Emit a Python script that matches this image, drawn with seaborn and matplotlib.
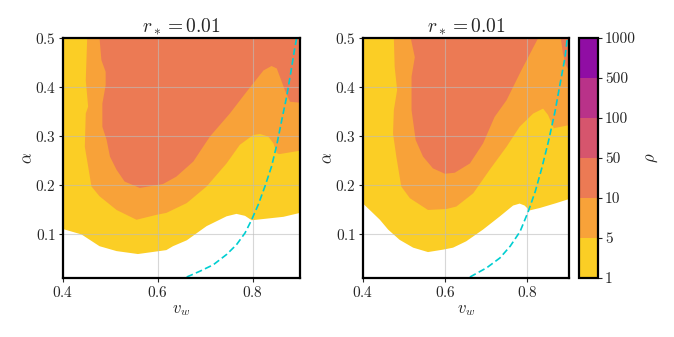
import numpy as np
import matplotlib
matplotlib.use("Agg")
import matplotlib.pyplot as plt
from matplotlib.colors import ListedColormap, BoundaryNorm
import seaborn as sns

# contour levels of rho and their fill colours
levels = [1, 5, 10, 50, 100, 500, 1000]
level_colors = ["#fbce25", "#f8a239", "#ec7a54", "#d6556d", "#b93289", "#900da4"]

# ---- left panel: boundaries ----
# rho = 1 (lower edge of the filled area)
L_vw_1 = [0.4, 0.439, 0.477, 0.513, 0.558, 0.618, 0.632, 0.661, 0.703, 0.745,
          0.766, 0.784, 0.798, 0.808, 0.865, 0.9]
L_al_1 = [0.110, 0.099, 0.075, 0.065, 0.059, 0.067, 0.075, 0.087, 0.116, 0.136,
          0.141, 0.137, 0.128, 0.129, 0.135, 0.143]
# rho = 5
L_vw_5 = [0.451, 0.448, 0.453, 0.448, 0.446, 0.453, 0.460, 0.477, 0.513, 0.555,
          0.597, 0.618, 0.661, 0.703, 0.745, 0.773, 0.801, 0.816, 0.833, 0.844,
          0.851, 0.856, 0.9]
L_al_5 = [0.5, 0.414, 0.360, 0.346, 0.278, 0.238, 0.197, 0.177, 0.149, 0.129,
          0.139, 0.143, 0.163, 0.197, 0.244, 0.282, 0.302, 0.304, 0.299, 0.285,
          0.265, 0.263, 0.270]
# rho = 10
L_vw_10 = [0.477, 0.481, 0.490, 0.490, 0.483, 0.483, 0.492, 0.499, 0.513, 0.530,
           0.562, 0.611, 0.639, 0.675, 0.710, 0.752, 0.787, 0.823, 0.840, 0.851,
           0.868, 0.879, 0.9]
L_al_10 = [0.5, 0.455, 0.431, 0.404, 0.366, 0.319, 0.292, 0.258, 0.231, 0.207,
           0.194, 0.202, 0.217, 0.248, 0.299, 0.346, 0.390, 0.434, 0.443, 0.438,
           0.394, 0.370, 0.368]
# dashed reference curve
L_line_vw = [0.661, 0.689, 0.717, 0.745, 0.766, 0.784, 0.798, 0.812, 0.826, 0.840,
             0.851, 0.861, 0.872, 0.881, 0.889, 0.893]
L_line_al = [0.012, 0.024, 0.037, 0.058, 0.078, 0.102, 0.129, 0.160, 0.197, 0.238,
             0.282, 0.330, 0.381, 0.432, 0.480, 0.500]

# ---- right panel ----
R_vw_1 = [0.4, 0.420, 0.441, 0.461, 0.489, 0.522, 0.558, 0.595, 0.619, 0.651,
          0.692, 0.733, 0.765, 0.781, 0.793, 0.805, 0.830, 0.870, 0.9]
R_al_1 = [0.162, 0.146, 0.129, 0.109, 0.088, 0.072, 0.063, 0.068, 0.072, 0.085,
          0.109, 0.136, 0.158, 0.162, 0.158, 0.148, 0.153, 0.163, 0.171]
R_vw_5 = [0.475, 0.477, 0.483, 0.475, 0.473, 0.481, 0.493, 0.514, 0.558, 0.603,
          0.627, 0.668, 0.708, 0.749, 0.781, 0.814, 0.838, 0.850, 0.864, 0.9]
R_al_5 = [0.5, 0.441, 0.394, 0.353, 0.305, 0.258, 0.197, 0.173, 0.149, 0.151,
          0.156, 0.183, 0.231, 0.278, 0.319, 0.346, 0.356, 0.343, 0.316, 0.322]
R_vw_10 = [0.516, 0.526, 0.518, 0.518, 0.528, 0.546, 0.570, 0.599, 0.623, 0.660,
           0.692, 0.720, 0.749, 0.785, 0.826]
R_al_10 = [0.5, 0.461, 0.421, 0.353, 0.292, 0.258, 0.234, 0.223, 0.225, 0.244,
           0.285, 0.339, 0.373, 0.434, 0.5]
R_vw_10b = [0.881, 0.886, 0.893, 0.9, 0.9]
R_al_10b = [0.5, 0.47, 0.445, 0.435, 0.5]
R_line_vw = [0.660, 0.701, 0.733, 0.758, 0.782, 0.802, 0.819, 0.835, 0.851, 0.867,
             0.879, 0.891, 0.897]
R_line_al = [0.012, 0.031, 0.051, 0.075, 0.105, 0.146, 0.187, 0.235, 0.289, 0.350,
             0.405, 0.459, 0.500]

titles = [r"$r_* = 0.01$", r"$r_* = 0.01$"]

sns.set_style("whitegrid")
plt.rcParams["font.family"] = ["serif"]
plt.rcParams["font.serif"] = ["cmr10", "DejaVu Serif"]
plt.rcParams["mathtext.fontset"] = "cm"
plt.rcParams["axes.formatter.use_mathtext"] = True
plt.rcParams["axes.unicode_minus"] = False

fig = plt.figure(figsize=(6.74, 3.37), dpi=100)
ax1 = fig.add_axes([0.0935, 0.175, 0.3516, 0.712])
ax2 = fig.add_axes([0.5386, 0.175, 0.3050, 0.712])
cax = fig.add_axes([0.859, 0.175, 0.0282, 0.712])

panels = [
    (ax1, [(L_vw_1, L_al_1), (L_vw_5, L_al_5), (L_vw_10, L_al_10)], L_line_vw, L_line_al),
    (ax2, [(R_vw_1, R_al_1), (R_vw_5, R_al_5), (R_vw_10, R_al_10)], R_line_vw, R_line_al),
]

for i, (ax, regions, lx, ly) in enumerate(panels):
    for k, (vw, al) in enumerate(regions):
        xs, ys = list(vw), list(al)
        # close each region along the top edge of the axes
        if k == 0:
            xs += [0.9, 0.4]
            ys += [0.5, 0.5]
        elif xs[-1] >= 0.9:
            xs += [0.9]
            ys += [0.5]
        ax.fill(xs, ys, color=level_colors[k], lw=0, zorder=1)
    if i == 1:
        ax.fill(R_vw_10b, R_al_10b, color=level_colors[2], lw=0, zorder=1)
    sns.lineplot(x=lx, y=ly, ax=ax, color="darkturquoise", lw=1.2,
                 sort=False, estimator=None, zorder=3)
    ax.lines[-1].set_dashes([4, 2])
    ax.set_xlim(0.4, 0.9)
    ax.set_ylim(0.01, 0.5)
    ax.set_xticks([0.4, 0.6, 0.8])
    ax.set_yticks([0.1, 0.2, 0.3, 0.4, 0.5])
    ax.set_axisbelow(False)
    ax.grid(True, color="#bdbdbd", lw=0.8, alpha=0.6, zorder=2)
    ax.tick_params(axis="both", labelsize=11, length=3, width=0.8,
                   direction="out", left=True, bottom=True, pad=2)
    for s in ax.spines.values():
        s.set_color("black")
        s.set_linewidth(1.6)
        s.set_zorder(4)
    ax.set_title(titles[i], fontsize=14, pad=4)
    ax.set_xlabel(r"$v_w$", fontsize=12, labelpad=2)
    ax.set_ylabel(r"$\alpha$", fontsize=12, labelpad=0)

cmap = ListedColormap(level_colors)
norm = BoundaryNorm(levels, cmap.N)
sm = plt.cm.ScalarMappable(cmap=cmap, norm=norm)
cb = fig.colorbar(sm, cax=cax, ticks=levels, spacing="uniform")
cb.ax.set_yticklabels([str(v) for v in levels])
cb.ax.tick_params(labelsize=11, length=3, width=0.8, pad=2)
cb.outline.set_linewidth(1.6)
cb.outline.set_edgecolor("black")
cb.set_label(r"$\rho$", fontsize=12, labelpad=6)

fig.savefig("out.png", dpi=100)
